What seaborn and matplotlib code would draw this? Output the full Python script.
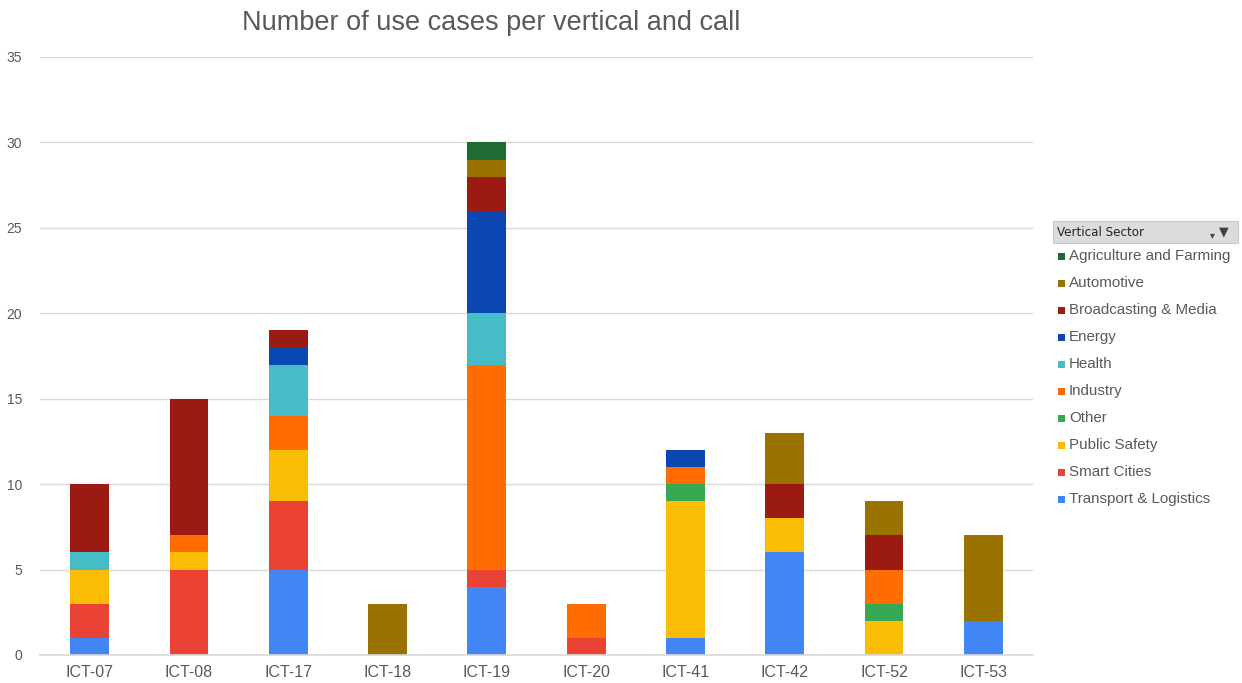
import matplotlib
matplotlib.use("Agg")
import matplotlib.pyplot as plt
from matplotlib.patches import Rectangle
import numpy as np
import seaborn as sns

calls = ["ICT-07", "ICT-08", "ICT-17", "ICT-18", "ICT-19",
         "ICT-20", "ICT-41", "ICT-42", "ICT-52", "ICT-53"]

# Sectors in legend order (top of stack first)
sectors = ["Agriculture and Farming", "Automotive", "Broadcasting & Media",
           "Energy", "Health", "Industry", "Other", "Public Safety",
           "Smart Cities", "Transport & Logistics"]

agriculture = [0, 0, 0, 0, 1, 0, 0, 0, 0, 0]
automotive = [0, 0, 0, 3, 1, 0, 0, 3, 2, 5]
broadcasting = [4, 8, 1, 0, 2, 0, 0, 2, 2, 0]
energy = [0, 0, 1, 0, 6, 0, 1, 0, 0, 0]
health = [1, 0, 3, 0, 3, 0, 0, 0, 0, 0]
industry = [0, 1, 2, 0, 12, 2, 1, 0, 2, 0]
other = [0, 0, 0, 0, 0, 0, 1, 0, 1, 0]
public_safety = [2, 1, 3, 0, 0, 0, 8, 2, 2, 0]
smart_cities = [2, 5, 4, 0, 1, 1, 0, 0, 0, 0]
transport = [1, 0, 5, 0, 4, 0, 1, 6, 0, 2]

series = [agriculture, automotive, broadcasting, energy, health,
          industry, other, public_safety, smart_cities, transport]

colors = ["#1e6b34", "#9a7200", "#9b1a12", "#0b47b0", "#46bdc6",
          "#ff6d01", "#34a853", "#fbbc04", "#ea4335", "#4285f4"]

text_grey = "#595959"

sns.set_theme(style="white")
plt.rcParams["font.family"] = ["Liberation Sans", "DejaVu Sans"]

fig = plt.figure(figsize=(12.42, 6.83), dpi=100)
W, H = 1242, 683
ax = fig.add_axes([40 / W, 1 - 655 / H, 993 / W, 598 / H])

# Stack from the bottom sector upward
bottom = np.zeros(len(calls))
for name, vals, col in reversed(list(zip(sectors, series, colors))):
    v = np.array(vals, dtype=float)
    sns.barplot(x=calls, y=v, bottom=bottom, color=col, width=0.39,
                errorbar=None, ax=ax, saturation=1, linewidth=0)
    bottom += v

ax.set_ylim(0, 35)
ax.set_xlim(-0.5, len(calls) - 0.5)
ax.set_yticks(range(0, 36, 5))
ax.yaxis.grid(True, color="#d9d9d9", linewidth=1)
ax.set_axisbelow(True)
for s in ax.spines.values():
    s.set_visible(False)
ax.spines["bottom"].set_visible(True)
ax.spines["bottom"].set_color("#d9d9d9")
ax.tick_params(axis="both", length=0, colors=text_grey)
ax.tick_params(axis="y", pad=13, labelsize=10)
ax.tick_params(axis="x", pad=7, labelsize=11.5)
ax.set_xlabel("")
ax.set_ylabel("")

fig.text(491 / W, 1 - 23 / H, "Number of use cases per vertical and call",
         ha="center", va="center", fontsize=19.5, color=text_grey)

# Legend panel
hx0, hy0, hx1, hy1 = 1053, 221, 1238, 243
fig.patches.append(Rectangle((hx0 / W, 1 - hy1 / H), (hx1 - hx0) / W,
                             (hy1 - hy0) / H, transform=fig.transFigure,
                             facecolor="#dcdcdc", edgecolor="#c8c8c8",
                             linewidth=0.8))
fig.text(1057 / W, 1 - 232 / H, "Vertical Sector", ha="left", va="center",
         fontsize=9.5, color="#262626", family=["DejaVu Sans"],
         fontstretch="condensed")
# filter icon
fig.text(1224 / W, 1 - 232 / H, "\u25bc", ha="center", va="center",
         fontsize=9, color="#404040", family=["DejaVu Sans"])
fig.text(1212 / W, 1 - 235 / H, "\u25be", ha="center", va="center",
         fontsize=7, color="#404040", family=["DejaVu Sans"])

for i, (name, col) in enumerate(zip(sectors, colors)):
    yc = 256 + i * 27.0
    fig.patches.append(Rectangle((1058 / W, 1 - (yc + 4) / H), 7 / W, 7 / H,
                                 transform=fig.transFigure, facecolor=col,
                                 edgecolor="none"))
    fig.text(1069 / W, 1 - yc / H, name, ha="left", va="center",
             fontsize=10.9, color=text_grey)

fig.savefig("out.png", dpi=100)
